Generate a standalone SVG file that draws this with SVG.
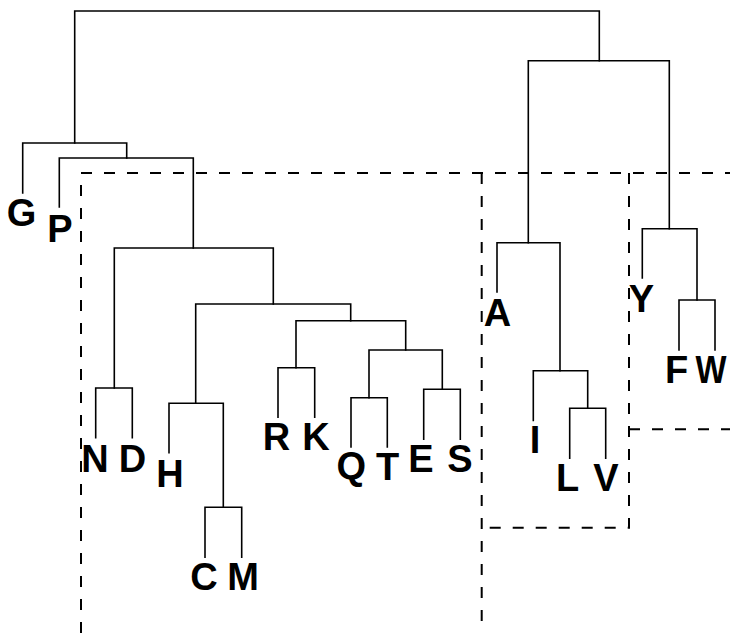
<svg xmlns="http://www.w3.org/2000/svg" width="730" height="633" viewBox="0 0 730 633">
  <style>
    .branch { fill: none; stroke: #000; stroke-width: 1.6; stroke-linecap: square; }
    .region { fill: none; stroke: #000; stroke-width: 2; stroke-dasharray: 11 12; }
    .leaf text { font-family: "Liberation Sans", Arial, sans-serif; font-weight: bold; font-size: 38px; fill: #000; text-anchor: middle; }
  </style>
  <rect width="730" height="633" fill="#fff"/>

  <!-- dashed cluster outlines -->
  <g id="regions">
    <path class="region" d="M81,633 V173 H730"/>
    <path class="region" d="M481.7,173 V633"/>
    <path class="region" d="M629,173 V527.7 H481.7"/>
    <path class="region" d="M629,429.3 H730"/>
  </g>

  <!-- dendrogram branches -->
  <g id="connectors">
    <path class="branch" d="M74.7,143 V11 H599.3 V60.7"/>
    <path class="branch" d="M22.7,193 V143 H126.7 V158"/>
    <path class="branch" d="M59.3,207 V158 H193.3 V248"/>
    <path class="branch" d="M114.3,388 V248 H273.3 V304"/>
    <path class="branch" d="M95.7,437.7 V388 H132.3 V437.7"/>
    <path class="branch" d="M195.7,403.3 V304 H350.7 V320.7"/>
    <path class="branch" d="M169,452.7 V403.3 H223.3 V507.3"/>
    <path class="branch" d="M205,557.3 V507.3 H241.7 V557.3"/>
    <path class="branch" d="M296,367.7 V320.7 H405.7 V350"/>
    <path class="branch" d="M278,417.3 V367.7 H314.7 V417.3"/>
    <path class="branch" d="M369,397.7 V350 H442.3 V389.3"/>
    <path class="branch" d="M351,447 V397.7 H387.3 V447"/>
    <path class="branch" d="M423.7,439.3 V389.3 H460.3 V439.3"/>
    <path class="branch" d="M528.3,242.7 V60.7 H669.3 V228.7"/>
    <path class="branch" d="M497,292 V242.7 H560 V370.7"/>
    <path class="branch" d="M533.3,420.5 V370.7 H587.7 V408.3"/>
    <path class="branch" d="M569.7,458.3 V408.3 H605.7 V458.3"/>
    <path class="branch" d="M642.3,278 V228.7 H697 V300"/>
    <path class="branch" d="M679,350 V300 H715 V350"/>
  </g>

  <!-- leaves -->
  <g id="leaf-G" class="leaf"><text x="21.5" y="226">G</text></g>
  <g id="leaf-P" class="leaf"><text x="60" y="242">P</text></g>
  <g id="leaf-N" class="leaf"><text x="95" y="471.5">N</text></g>
  <g id="leaf-D" class="leaf"><text x="132.5" y="471.5">D</text></g>
  <g id="leaf-H" class="leaf"><text x="170" y="486.5">H</text></g>
  <g id="leaf-C" class="leaf"><text x="204" y="590">C</text></g>
  <g id="leaf-M" class="leaf"><text x="243" y="590">M</text></g>
  <g id="leaf-R" class="leaf"><text x="276.5" y="450">R</text></g>
  <g id="leaf-K" class="leaf"><text x="316" y="450">K</text></g>
  <g id="leaf-Q" class="leaf"><text x="351.3" y="479">Q</text></g>
  <g id="leaf-T" class="leaf"><text x="387.5" y="480">T</text></g>
  <g id="leaf-E" class="leaf"><text x="421" y="471.5">E</text></g>
  <g id="leaf-S" class="leaf"><text x="460" y="472">S</text></g>
  <g id="leaf-A" class="leaf"><text x="497.5" y="326">A</text></g>
  <g id="leaf-I" class="leaf"><text x="535" y="452.5">I</text></g>
  <g id="leaf-L" class="leaf"><text x="567.5" y="490.7">L</text></g>
  <g id="leaf-V" class="leaf"><text x="606" y="490.7">V</text></g>
  <g id="leaf-Y" class="leaf"><text x="641.5" y="311.5">Y</text></g>
  <g id="leaf-F" class="leaf"><text x="676.5" y="382.7">F</text></g>
  <g id="leaf-W" class="leaf"><text x="711" y="382.7" textLength="31" lengthAdjust="spacingAndGlyphs">W</text></g>
</svg>
